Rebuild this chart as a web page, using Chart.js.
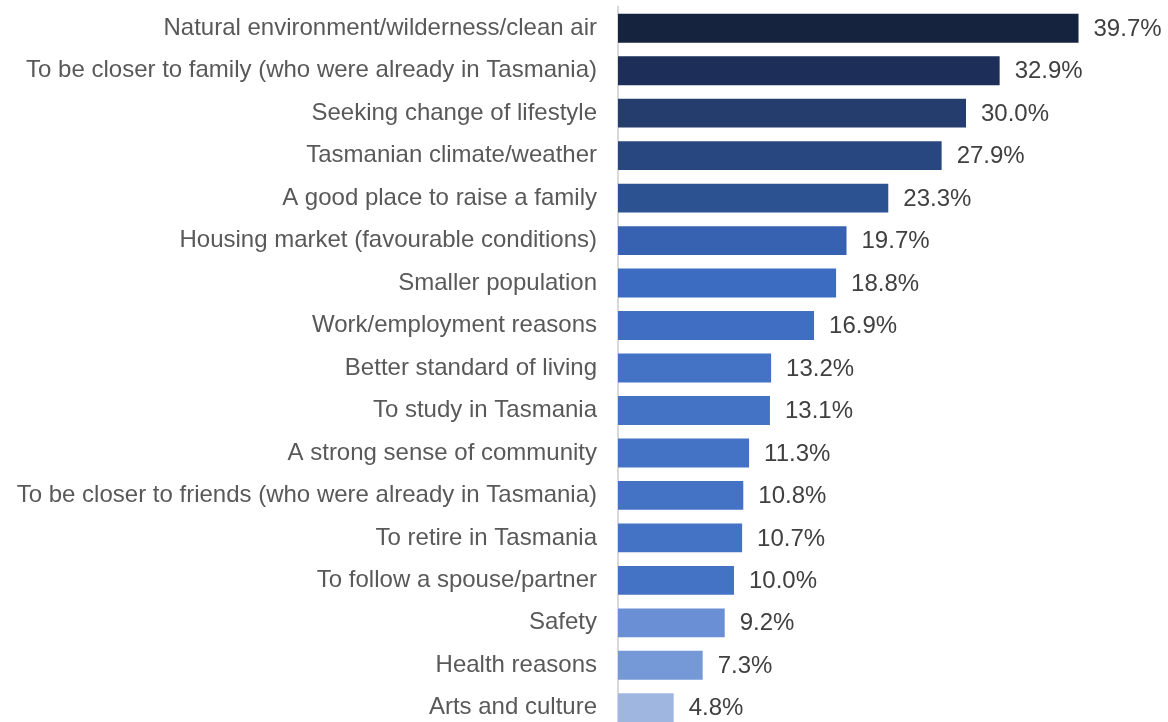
<!DOCTYPE html>
<html>
<head>
<meta charset="utf-8">
<script src="https://cdn.jsdelivr.net/npm/chart.js@4.4.0/dist/chart.umd.min.js"></script>
<style>
  html, body { margin: 0; padding: 0; background: #ffffff; overflow: hidden; }
  #wrap { position: relative; width: 1168px; height: 729px; }
</style>
</head>
<body>
<div id="wrap"><canvas id="c"></canvas></div>
<script>
const categories = [
  "Natural environment/wilderness/clean air",
  "To be closer to family (who were already in Tasmania)",
  "Seeking change of lifestyle",
  "Tasmanian climate/weather",
  "A good place to raise a family",
  "Housing market (favourable conditions)",
  "Smaller population",
  "Work/employment reasons",
  "Better standard of living",
  "To study in Tasmania",
  "A strong sense of community",
  "To be closer to friends (who were already in Tasmania)",
  "To retire in Tasmania",
  "To follow a spouse/partner",
  "Safety",
  "Health reasons",
  "Arts and culture"
];
const values = [39.7, 32.9, 30.0, 27.9, 23.3, 19.7, 18.8, 16.9, 13.2, 13.1, 11.3, 10.8, 10.7, 10.0, 9.2, 7.3, 4.8];
const barColors = [
  "#16233f", "#1d2f58", "#243d6d", "#284780", "#2d5291",
  "#3662b1", "#3b6cc1", "#3f6ec3", "#4472c4", "#4472c4",
  "#4472c4", "#4472c4", "#4472c4", "#4472c4", "#6a8fd4",
  "#7598d7", "#9fb6e1"
];

const valueLabels = {
  id: 'valueLabels',
  afterDatasetsDraw(chart) {
    const ctx = chart.ctx;
    const meta = chart.getDatasetMeta(0);
    ctx.save();
    ctx.font = '24px "Liberation Sans", Arial, sans-serif';
    ctx.fillStyle = '#404040';
    ctx.textAlign = 'left';
    ctx.textBaseline = 'middle';
    meta.data.forEach((bar, i) => {
      ctx.fillText(values[i].toFixed(1) + '%', bar.x + 15, bar.y + 1);
    });
    ctx.restore();
  }
};

new Chart(document.getElementById('c'), {
  type: 'bar',
  data: {
    labels: categories,
    datasets: [{
      data: values,
      backgroundColor: barColors,
      borderWidth: 0,
      barPercentage: 0.68,
      categoryPercentage: 1.0
    }]
  },
  options: {
    indexAxis: 'y',
    responsive: true,
    maintainAspectRatio: false,
    animation: false,
    layout: { padding: { left: 0, right: 86, top: 7, bottom: 0 } },
    plugins: { legend: { display: false }, tooltip: { enabled: false } },
    scales: {
      x: {
        display: false,
        min: 0,
        max: 40
      },
      y: {
        grid: { display: false, drawTicks: false },
        border: { display: true, color: '#d9d9d9', width: 2 },
        ticks: {
          color: '#595959',
          font: { family: '"Liberation Sans", Arial, sans-serif', size: 24 },
          padding: 21,
          autoSkip: false
        },
        afterFit(scale) {
          scale.width = 618;
          scale.paddingTop = 0;
          scale.paddingBottom = 0;
        }
      }
    }
  },
  plugins: [valueLabels]
});
</script>
</body>
</html>
